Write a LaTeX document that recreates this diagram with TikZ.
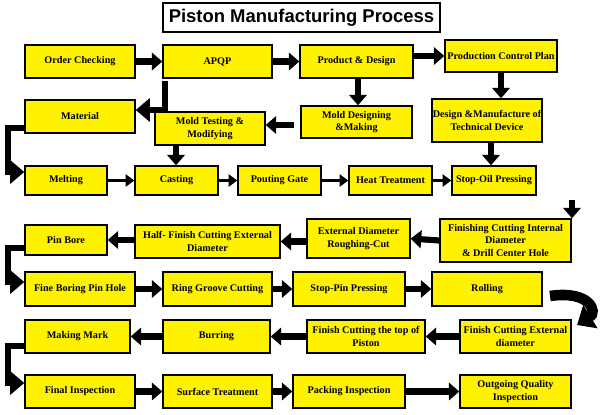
\documentclass[tikz,border=0pt]{standalone}
\usepackage{fontspec}
\setmainfont{Liberation Serif}
\newfontfamily\hsans{Liberation Sans}
\usetikzlibrary{arrows.meta}
\begin{document}
\begin{tikzpicture}[x=0.02cm,y=-0.02cm,
  bx/.style={draw=black,fill=yellow,line width=0.8pt,inner sep=0.5pt,align=center,font=\bfseries\fontsize{5.8}{7}\selectfont},
  ar/.style={line width=3.5pt,-{Triangle[length=6pt,width=10pt]}},
  tar/.style={line width=2pt,-{Triangle[length=5pt,width=7pt]}}]
\useasboundingbox (0,0) rectangle (600,414);
\fill[white] (0,0) rectangle (600,414);
\newcommand{\bx}[6]{\node[bx,minimum width={(#3-#2)*0.02cm},minimum height={(#5-#4)*0.02cm}] (#1) at ({(#2+#3)/2},{(#4+#5)/2}) {#6};}
\node[draw,line width=0.8pt,minimum width=5.54cm,minimum height=0.58cm,font=\hsans\bfseries\fontsize{10.5}{12}\selectfont] (title) at (301.5,17.5) {Piston Manufacturing Process};
\bx{oc}{25}{135}{45}{78}{Order Checking}
\bx{apqp}{163}{272}{45}{78}{APQP}
\bx{pd}{300}{413}{45}{78}{Product \& Design}
\bx{pcp}{445}{557}{40}{72}{Production Control Plan}
\bx{mat}{25}{135}{100}{133}{Material}
\bx{mtm}{155}{265}{112}{145}{Mold Testing \&\\Modifying}
\bx{mdm}{301}{412}{106}{138}{Mold Designing\\\&Making}
\bx{dmt}{432}{542}{99}{142}{Design \&Manufacture of\\Technical Device}
\bx{mel}{25}{107}{166}{195}{Melting}
\bx{cas}{135}{218}{166}{195}{Casting}
\bx{pg}{238}{321}{166}{195}{Pouting Gate}
\bx{ht}{349}{432}{166}{195}{Heat Treatment}
\bx{sop}{452}{536}{166}{195}{Stop-Oil Pressing}
\bx{pb}{25}{107}{225}{255}{Pin Bore}
\bx{hf}{135}{280}{225}{258}{Half- Finish Cutting External\\Diameter}
\bx{edr}{307}{410}{219}{258}{External Diameter\\Roughing-Cut}
\bx{fci}{440}{571}{219}{262}{Finishing Cutting Internal\\Diameter\\\& Drill Center Hole}
\bx{fb}{25}{135}{272}{306}{Fine Boring Pin Hole}
\bx{rg}{163}{272}{272}{306}{Ring Groove Cutting}
\bx{sp}{293}{405}{272}{306}{Stop-Pin Pressing}
\bx{rol}{432}{542}{272}{306}{Rolling}
\bx{mm}{25}{130}{320}{353}{Making Mark}
\bx{bur}{163}{270}{320}{353}{Burring}
\bx{fct}{307}{425}{320}{353}{Finish Cutting the top of\\Piston}
\bx{fce}{460}{571}{320}{353}{Finish Cutting External\\diameter}
\bx{fi}{25}{135}{375}{408}{Final Inspection}
\bx{st}{163}{272}{375}{408}{Surface Treatment}
\bx{pi}{293}{405}{375}{408}{Packing Inspection}
\bx{oq}{460}{571}{375}{408}{Outgoing Quality\\Inspection}
% row 1
\draw[ar] (oc.east) -- (apqp.west|-oc.east);
\draw[ar] (apqp.east) -- (pd.west|-apqp.east);
\draw[ar] (pd.east|-pcp.west) -- (pcp.west);
\draw[ar] (pcp.south) -- (pcp.south|-dmt.north);
\draw[ar] (358,78) -- (mdm.north-|358,78);
\draw[ar,-{Triangle[length=8pt,width=13pt]}] (165,81) -- (165,110) -- (mat.east|-165,110);
\draw[ar,-{Triangle[length=8pt,width=13pt]}] (mat.west|-0,128) -- (8,128) -- (8,172) -- (mel.west|-0,172);
\draw[ar] (294,125) -- (mtm.east|-294,125);
\draw[ar] (176,145) -- (cas.north-|176,145);
\draw[ar] (dmt.south-|491,0) -- (sop.north-|491,0);
% row 3
\draw[tar] (mel.east) -- (cas.west);
\draw[tar] (cas.east) -- (pg.west);
\draw[tar] (pg.east) -- (ht.west);
\draw[tar] (ht.east) -- (sop.west);
\coordinate (c1) at (572,200);
\draw[ar] (c1) -- (fci.north-|c1);
% row 4
\draw[ar] (fci.west) -- (edr.east);
\draw[ar] (edr.west|-hf.east) -- (hf.east);
\draw[ar] (hf.west|-pb.east) -- (pb.east);
\draw[ar,-{Triangle[length=8pt,width=13pt]}] (pb.west|-0,248) -- (8,248) -- (8,282) -- (fb.west|-0,282);
% row 5
\draw[ar] (fb.east) -- (rg.west);
\draw[ar] (rg.east) -- (sp.west);
\draw[ar] (sp.east) -- (rol.west);
\coordinate (c2) at (550,296);
\coordinate (c3) at (577,325);
\draw[line width=6pt,-{Triangle[length=9pt,width=15pt]}] (c2) .. controls (590,290) and (598,312) .. (c3);
% row 6
\draw[ar] (fce.west) -- (fct.east);
\draw[ar] (fct.west) -- (bur.east);
\draw[ar] (bur.west) -- (mm.east);
\draw[ar,-{Triangle[length=8pt,width=13pt]}] (mm.west|-0,346) -- (8,346) -- (8,383) -- (fi.west|-0,383);
% row 7
\draw[ar] (fi.east) -- (st.west);
\draw[ar] (st.east) -- (pi.west);
\draw[ar] (pi.east) -- (oq.west);
\end{tikzpicture}
\end{document}
